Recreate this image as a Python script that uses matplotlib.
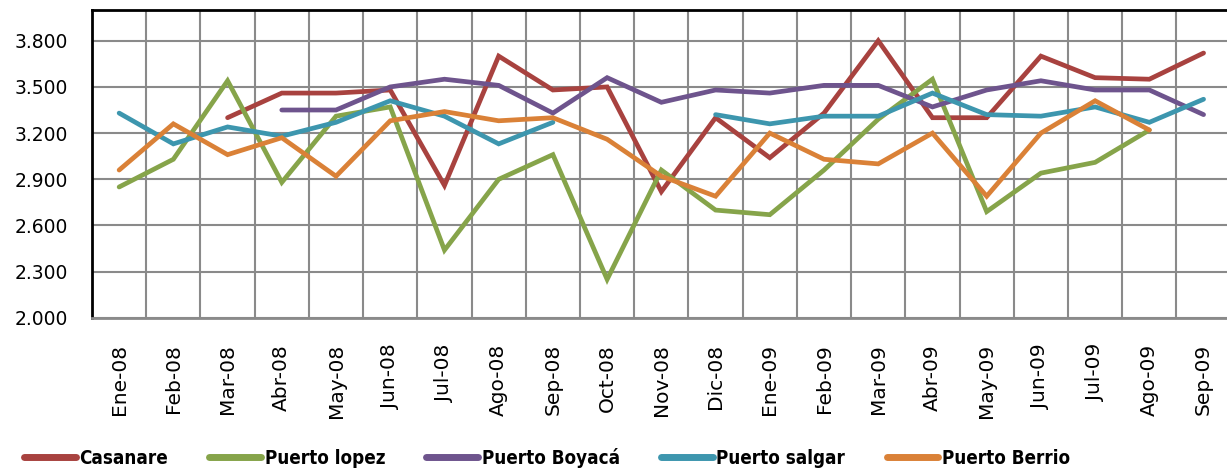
import numpy as np
import matplotlib.pyplot as plt
import matplotlib.font_manager as fm

nan = np.nan

months = ["Ene-08", "Feb-08", "Mar-08", "Abr-08", "May-08", "Jun-08", "Jul-08",
          "Ago-08", "Sep-08", "Oct-08", "Nov-08", "Dic-08", "Ene-09", "Feb-09",
          "Mar-09", "Abr-09", "May-09", "Jun-09", "Jul-09", "Ago-09", "Sep-09"]

casanare = [nan, nan, 3.30, 3.46, 3.46, 3.48, 2.86, 3.70, 3.48, 3.50, 2.82,
            3.30, 3.04, 3.33, 3.80, 3.30, 3.30, 3.70, 3.56, 3.55, 3.72]
puerto_lopez = [2.85, 3.03, 3.54, 2.88, 3.31, 3.37, 2.44, 2.90, 3.06, 2.25, 2.96,
                2.70, 2.67, 2.96, 3.29, 3.55, 2.69, 2.94, 3.01, 3.22, nan]
puerto_boyaca = [nan, nan, nan, 3.35, 3.35, 3.50, 3.55, 3.51, 3.33, 3.56, 3.40,
                 3.48, 3.46, 3.51, 3.51, 3.37, 3.48, 3.54, 3.48, 3.48, 3.32]
puerto_salgar = [3.33, 3.13, 3.24, 3.18, 3.27, 3.41, 3.31, 3.13, 3.27, nan, nan,
                 3.32, 3.26, 3.31, 3.31, 3.46, 3.32, 3.31, 3.37, 3.27, 3.42]
puerto_berrio = [2.96, 3.26, 3.06, 3.17, 2.92, 3.28, 3.34, 3.28, 3.30, 3.16, 2.92,
                 2.79, 3.20, 3.03, 3.00, 3.20, 2.79, 3.20, 3.41, 3.22, nan]

series = [
    ("Casanare", casanare, "#A8423F"),
    ("Puerto lopez", puerto_lopez, "#86A44A"),
    ("Puerto Boyacá", puerto_boyaca, "#6E548D"),
    ("Puerto salgar", puerto_salgar, "#3D96AE"),
    ("Puerto Berrio", puerto_berrio, "#DA8137"),
]

yticks = [2.0, 2.3, 2.6, 2.9, 3.2, 3.5, 3.8]

# look for a narrow font for the legend (Calibri-like), fall back to Roboto
fonts = fm.fontManager.ttflist
names = {f.name for f in fonts}
leg_prop = {"family": "Roboto", "weight": "bold", "size": 13.5}
if "Liberation Sans Narrow" in names:
    leg_prop = {"family": "Liberation Sans Narrow", "weight": "bold", "size": 14}
elif any(f.name == "DejaVu Sans" and f.stretch == "condensed" and f.weight == 700 for f in fonts):
    leg_prop = {"family": "DejaVu Sans", "stretch": "condensed", "weight": "bold", "size": 13.5}

fig = plt.figure(figsize=(12.27, 4.73), dpi=100)
ax = fig.add_axes([0.075, 0.328, 0.928, 0.651])

x = np.arange(len(months))
for name, vals, col in series:
    ax.plot(x, vals, color=col, lw=3.4, label=name, solid_capstyle="round",
            solid_joinstyle="miter")

ax.set_xlim(-0.5, len(months) - 0.5)
ax.set_ylim(2.0, 4.0)
ax.set_yticks(yticks)
ax.set_yticklabels([f"{v:.3f}" for v in yticks], fontsize=13.5, family="DejaVu Sans")
ax.set_xticks(x)
ax.set_xticklabels(months, rotation=90, fontsize=14.5, family="DejaVu Sans")
ax.set_xticks(np.arange(len(months) + 1) - 0.5, minor=True)
ax.tick_params(axis="both", which="both", length=0)
ax.tick_params(axis="y", pad=17)
ax.tick_params(axis="x", pad=19)

ax.grid(True, axis="y", which="major", color="#8a8a8a", lw=1.5)
ax.grid(True, axis="x", which="minor", color="#8a8a8a", lw=1.5)
ax.set_axisbelow(True)
for s in ["left", "top"]:
    ax.spines[s].set_color("black")
    ax.spines[s].set_linewidth(2)
ax.spines["bottom"].set_color("#8a8a8a")
ax.spines["bottom"].set_linewidth(2)
ax.spines["right"].set_visible(False)

leg = fig.legend(loc="center left", bbox_to_anchor=(0.012, 0.032), ncol=5,
                 frameon=False, handlelength=2.75, handletextpad=0.2,
                 columnspacing=2.2, borderpad=0, prop=leg_prop)
for h in leg.legend_handles:
    h.set_linewidth(5)

fig.savefig("out.png", dpi=100)
